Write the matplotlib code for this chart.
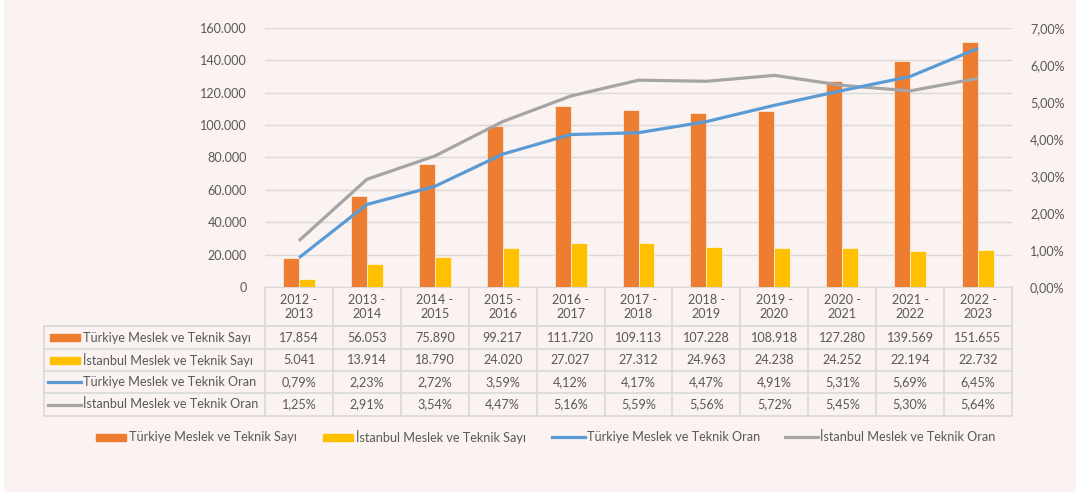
import matplotlib.pyplot as plt
import matplotlib.transforms as mtransforms
from matplotlib.patches import Rectangle
from matplotlib.lines import Line2D
import numpy as np

years = ["2012 -\n2013", "2013 -\n2014", "2014 -\n2015", "2015 -\n2016", "2016 -\n2017",
         "2017 -\n2018", "2018 -\n2019", "2019 -\n2020", "2020 -\n2021", "2021 -\n2022",
         "2022 -\n2023"]
tr_sayi = [17854, 56053, 75890, 99217, 111720, 109113, 107228, 108918, 127280, 139569, 151655]
ist_sayi = [5041, 13914, 18790, 24020, 27027, 27312, 24963, 24238, 24252, 22194, 22732]
tr_oran = [0.79, 2.23, 2.72, 3.59, 4.12, 4.17, 4.47, 4.91, 5.31, 5.69, 6.45]
ist_oran = [1.25, 2.91, 3.54, 4.47, 5.16, 5.59, 5.56, 5.72, 5.45, 5.30, 5.64]
names = ["Türkiye Meslek ve Teknik Sayı", "İstanbul Meslek ve Teknik Sayı",
         "Türkiye Meslek ve Teknik Oran", "İstanbul Meslek ve Teknik Oran"]

C_OR = "#ED7D31"
C_YE = "#FFC000"
C_BL = "#5B9BD5"
C_GR = "#A5A5A5"
TXT = "#595959"
GRID = "#D9D9D9"
BG = "#FBF3F1"

plt.rcParams['font.family'] = ['Lato', 'DejaVu Sans']
FS = 9.1

W, H = 1076, 492
fig = plt.figure(figsize=(W / 100, H / 100), dpi=100)
fig.patch.set_facecolor("white")
fig.add_artist(Rectangle((4 / W, 0), 1 - 4 / W, 1, transform=fig.transFigure,
                         facecolor=BG, edgecolor="none", zorder=-10))

def fx(px):
    return px / W

def fy(py):
    return 1 - py / H

L, R, T, B = 265, 1012, 28, 287
ax = fig.add_axes([fx(L), fy(B), fx(R) - fx(L), fy(T) - fy(B)])
ax.set_facecolor("none")
ax2 = ax.twinx()

n = len(years)
x = np.arange(n)
bw = 0.235
ax.bar(x - bw / 2, tr_sayi, bw, color=C_OR, edgecolor="white", linewidth=0.4, zorder=3)
ax.bar(x + bw / 2, ist_sayi, bw, color=C_YE, edgecolor="white", linewidth=0.4, zorder=3)
ax.set_xlim(-0.5, n - 0.5)
ax.set_ylim(0, 160000)
ax.set_yticks(np.arange(0, 160001, 20000))
ax.set_yticklabels(["0"] + [f"{v // 1000}.000" for v in range(20000, 160001, 20000)])
ax.yaxis.grid(True, color=GRID, linewidth=1)
ax.set_axisbelow(True)
ax.set_xticks([])

ax2.plot(x, np.array(ist_oran) / 100, color=C_GR, linewidth=2.3, solid_capstyle="butt", zorder=4)
ax2.plot(x, np.array(tr_oran) / 100, color=C_BL, linewidth=2.3, solid_capstyle="butt", zorder=5)
ax2.set_ylim(0, 0.07)
ax2.set_yticks(np.arange(0, 0.0701, 0.01))
ax2.set_yticklabels([f"{v},00%" for v in range(8)])

for a in (ax, ax2):
    for s in a.spines.values():
        s.set_visible(False)
    a.tick_params(length=0, labelsize=FS, labelcolor=TXT, pad=13)
ax.spines["bottom"].set_visible(True)
ax.spines["bottom"].set_color(GRID)

# data table
bt = mtransforms.blended_transform_factory(ax.transData, fig.transFigure)
rows_y = [287, 326, 349, 371, 393, 416]
lc = "#D9D9D9"
for yy in rows_y[1:]:
    fig.add_artist(Line2D([fx(44), fx(R)], [fy(yy), fy(yy)], color=lc, linewidth=1.2))
for xb in np.arange(-0.5, n, 1.0):
    ax.add_artist(Line2D([xb, xb], [fy(287), fy(416)], transform=bt, color=lc,
                         linewidth=1.2, clip_on=False))
fig.add_artist(Line2D([fx(44), fx(44)], [fy(326), fy(416)], color=lc, linewidth=1.2))

for i in range(n):
    ax.text(i, fy(307), years[i], transform=bt, ha="center", va="center",
            fontsize=FS, color=TXT, linespacing=1.3)
    vals = [f"{tr_sayi[i]:,}".replace(",", "."), f"{ist_sayi[i]:,}".replace(",", "."),
            f"{tr_oran[i]:.2f}%".replace(".", ","), f"{ist_oran[i]:.2f}%".replace(".", ",")]
    for r, v in enumerate(vals):
        yc = (rows_y[r + 1] + rows_y[r + 2]) / 2
        ax.text(i, fy(yc), v, transform=bt, ha="center", va="center", fontsize=FS, color=TXT)

kinds = [("bar", C_OR), ("bar", C_YE), ("line", C_BL), ("line", C_GR)]
for r, (kind, col) in enumerate(kinds):
    yc = (rows_y[r + 1] + rows_y[r + 2]) / 2
    if kind == "bar":
        fig.add_artist(Rectangle((fx(50), fy(yc + 3.5)), fx(30), 7 / H,
                                 transform=fig.transFigure, color=col))
    else:
        fig.add_artist(Line2D([fx(48), fx(81)], [fy(yc), fy(yc)], color=col, linewidth=2.3))
    fig.text(fx(83), fy(yc), names[r], ha="left", va="center", fontsize=FS, color=TXT)

# legend
ly = 437
leg = [(96, 129), (323, 356), (552, 587), (785, 820)]
for (mx, tx), (kind, col), name in zip(leg, kinds, names):
    if kind == "bar":
        fig.add_artist(Rectangle((fx(mx), fy(ly + 3.5)), fx(30), 7 / H,
                                 transform=fig.transFigure, color=col))
    else:
        fig.add_artist(Line2D([fx(mx), fx(mx + 33)], [fy(ly), fy(ly)], color=col, linewidth=2.3))
    fig.text(fx(tx), fy(ly), name, ha="left", va="center", fontsize=FS, color=TXT)

plt.savefig("out.png", dpi=100, facecolor=fig.get_facecolor())
